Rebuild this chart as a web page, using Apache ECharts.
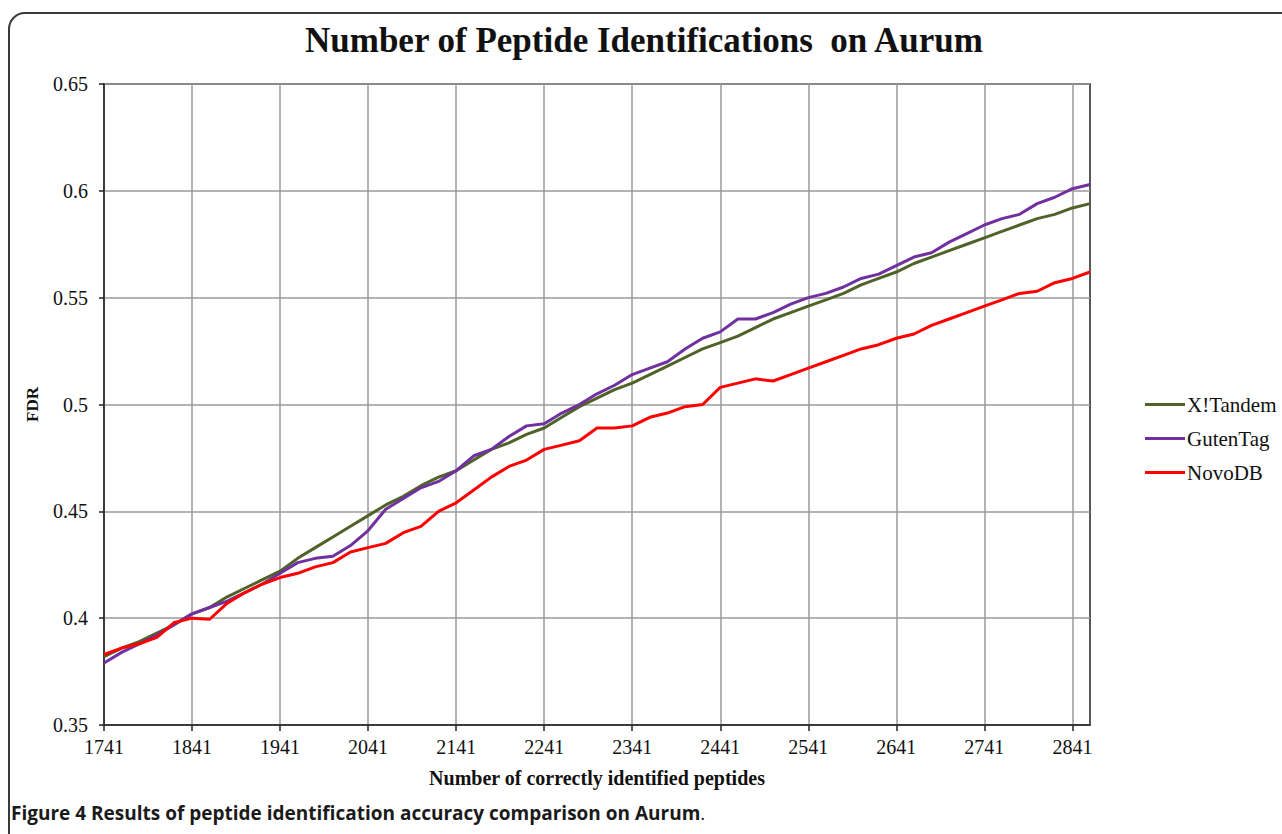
<!DOCTYPE html>
<html>
<head>
<meta charset="utf-8">
<title>Number of Peptide Identifications on Aurum</title>
<script src="https://cdn.jsdelivr.net/npm/echarts@6/dist/echarts.min.js"></script>
<style>
  html, body { margin: 0; padding: 0; background: #fff; }
  #chart { width: 1282px; height: 834px; }
</style>
</head>
<body>
<div id="chart"></div>
<script>
// number of correctly identified peptides (one point every 20)
const peptides = [
  1741, 1761, 1781, 1801, 1821, 1841, 1861, 1881, 1901, 1921,
  1941, 1961, 1981, 2001, 2021, 2041, 2061, 2081, 2101, 2121,
  2141, 2161, 2181, 2201, 2221, 2241, 2261, 2281, 2301, 2321,
  2341, 2361, 2381, 2401, 2421, 2441, 2461, 2481, 2501, 2521,
  2541, 2561, 2581, 2601, 2621, 2641, 2661, 2681, 2701, 2721,
  2741, 2761, 2781, 2801, 2821, 2841, 2861
];

// FDR values
const xTandem = [
  0.382, 0.386, 0.389, 0.393, 0.397, 0.402, 0.405, 0.410, 0.414, 0.418,
  0.422, 0.428, 0.433, 0.438, 0.443, 0.448, 0.453, 0.457, 0.462, 0.466,
  0.469, 0.474, 0.479, 0.482, 0.486, 0.489, 0.494, 0.499, 0.503, 0.507,
  0.510, 0.514, 0.518, 0.522, 0.526, 0.529, 0.532, 0.536, 0.540, 0.543,
  0.546, 0.549, 0.552, 0.556, 0.559, 0.562, 0.566, 0.569, 0.572, 0.575,
  0.578, 0.581, 0.584, 0.587, 0.589, 0.592, 0.594
];
const gutenTag = [
  0.379, 0.384, 0.388, 0.392, 0.397, 0.402, 0.405, 0.408, 0.412, 0.416,
  0.421, 0.426, 0.428, 0.429, 0.434, 0.441, 0.451, 0.456, 0.461, 0.464,
  0.469, 0.476, 0.479, 0.485, 0.490, 0.491, 0.496, 0.500, 0.505, 0.509,
  0.514, 0.517, 0.520, 0.526, 0.531, 0.534, 0.540, 0.540, 0.543, 0.547,
  0.550, 0.552, 0.555, 0.559, 0.561, 0.565, 0.569, 0.571, 0.576, 0.580,
  0.584, 0.587, 0.589, 0.594, 0.597, 0.601, 0.603
];
const novoDB = [
  0.383, 0.386, 0.388, 0.391, 0.398, 0.400, 0.3995, 0.407, 0.412, 0.416,
  0.419, 0.421, 0.424, 0.426, 0.431, 0.433, 0.435, 0.440, 0.443, 0.450,
  0.454, 0.460, 0.466, 0.471, 0.474, 0.479, 0.481, 0.483, 0.489, 0.489,
  0.490, 0.494, 0.496, 0.499, 0.500, 0.508, 0.510, 0.512, 0.511, 0.514,
  0.517, 0.520, 0.523, 0.526, 0.528, 0.531, 0.533, 0.537, 0.540, 0.543,
  0.546, 0.549, 0.552, 0.553, 0.557, 0.559, 0.562
];

const seriesNames = ['X!Tandem', 'GutenTag', 'NovoDB'];
const seriesColors = ['#4f6228', '#7030a0', '#ff0000'];

const serif = '"Liberation Serif", "Times New Roman", serif';
const sans = '"Open Sans", "Noto Sans", sans-serif';

const chart = echarts.init(document.getElementById('chart'), null, { renderer: 'svg' });

chart.setOption({
  backgroundColor: '#fff',
  animation: false,
  graphic: [
    {
      // rounded figure frame
      type: 'rect',
      shape: { x: 9, y: 13, width: 1300, height: 850, r: 16 },
      style: { fill: 'none', stroke: '#3a3a3a', lineWidth: 2 },
      silent: true
    },
    {
      type: 'text',
      x: 644,
      y: 23,
      style: {
        text: 'Number of Peptide Identifications  on Aurum',
        font: 'bold 35px ' + serif,
        fill: '#111',
        textAlign: 'center',
        textVerticalAlign: 'top'
      }
    },
    {
      type: 'text',
      x: 11,
      y: 803,
      style: {
        text: '{b|Figure 4 Results of peptide identification accuracy comparison on Aurum}{n|.}',
        rich: {
          b: { font: 'bold 19px ' + sans, fill: '#1a1a1a' },
          n: { font: '19px ' + sans, fill: '#1a1a1a' }
        }
      }
    }
  ],
  legend: {
    orient: 'vertical',
    left: 1140,
    top: 389,
    icon: 'rect',
    itemWidth: 40,
    itemHeight: 3,
    itemGap: 13,
    textStyle: { fontFamily: serif, fontSize: 21, color: '#111', padding: [0, 0, 0, -3] },
    data: seriesNames
  },
  grid: {
    left: 104,
    right: 192,
    top: 84,
    bottom: 109,
    show: true,
    borderColor: '#222',
    borderWidth: 1.5
  },
  xAxis: {
    type: 'category',
    data: peptides,
    boundaryGap: false,
    name: 'Number of correctly identified peptides',
    nameLocation: 'middle',
    nameGap: 43,
    nameTextStyle: { fontFamily: serif, fontWeight: 'bold', fontSize: 20, color: '#111' },
    axisLine: { lineStyle: { color: '#222', width: 1.5 } },
    axisTick: { interval: 4, length: 6, lineStyle: { color: '#222', width: 1.5 } },
    axisLabel: { interval: 4, margin: 12, fontFamily: serif, fontSize: 20, color: '#111' },
    splitLine: { show: true, interval: 4, lineStyle: { color: '#9a9a9a', width: 1.5 } }
  },
  yAxis: {
    type: 'value',
    min: 0.35,
    max: 0.65,
    interval: 0.05,
    name: 'FDR',
    nameLocation: 'middle',
    nameGap: 63,
    nameTextStyle: { fontFamily: serif, fontWeight: 'bold', fontSize: 17, color: '#111' },
    axisLine: { show: true, lineStyle: { color: '#222', width: 1.5 } },
    axisTick: { show: true, length: 5, lineStyle: { color: '#222', width: 1.5 } },
    axisLabel: { margin: 16, fontFamily: serif, fontSize: 20, color: '#111' },
    splitLine: { lineStyle: { color: '#9a9a9a', width: 1.5 } }
  },
  series: seriesNames.map((name, i) => ({
    name: name,
    type: 'line',
    data: [xTandem, gutenTag, novoDB][i],
    symbol: 'none',
    lineStyle: { color: seriesColors[i], width: 3 },
    itemStyle: { color: seriesColors[i] }
  }))
});
</script>
</body>
</html>
